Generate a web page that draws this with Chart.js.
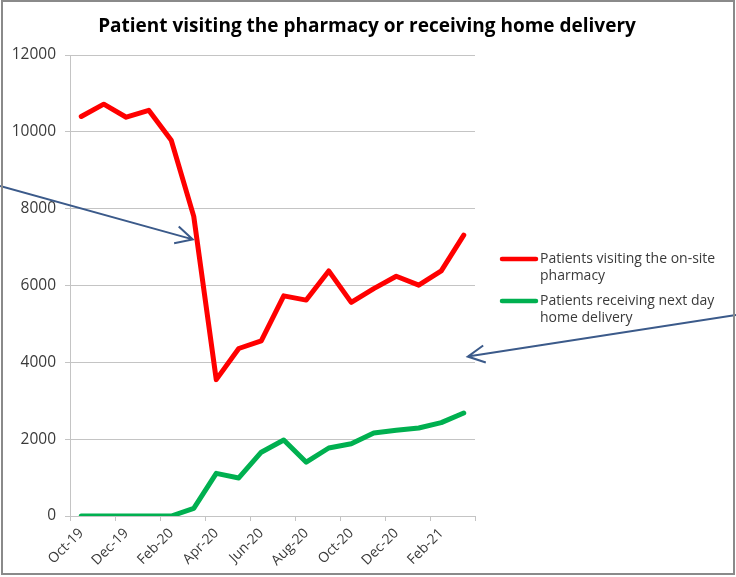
<!DOCTYPE html>
<html>
<head>
<meta charset="utf-8">
<script src="https://cdn.jsdelivr.net/npm/chart.js@4"></script>
<style>
  html, body { margin: 0; background: #fff; }
  #wrap { width: 736px; height: 577px; }
</style>
</head>
<body>
<div id="wrap"><canvas id="chart" width="736" height="577"></canvas></div>
<script>
const chartTitle = 'Patient visiting the pharmacy or receiving home delivery'

const months = [
  'Oct-19', 'Nov-19', 'Dec-19', 'Jan-20', 'Feb-20', 'Mar-20',
  'Apr-20', 'May-20', 'Jun-20', 'Jul-20', 'Aug-20', 'Sep-20',
  'Oct-20', 'Nov-20', 'Dec-20', 'Jan-21', 'Feb-21', 'Mar-21',
]

// patients visiting the on-site pharmacy
const onSiteVisits = [
  10400, 10720, 10380, 10560, 9780, 7800,
  3550, 4360, 4560, 5730, 5620, 6380,
  5560, 5920, 6240, 6010, 6380, 7310,
]

// patients receiving next day home delivery
const homeDeliveries = [
  0, 0, 0, 0, 0, 200,
  1110, 990, 1660, 1980, 1400, 1770,
  1880, 2160, 2230, 2290, 2430, 2680,
]

const legendLines = [
  ['Patients visiting the on-site', 'pharmacy'],
  ['Patients receiving next day', 'home delivery'],
]

const yMax = 12000
const yStep = 2000

const textColor = '#3a3a3a'
const gridColor = '#c4c4c4'
const arrowColor = '#3b5a8a'
const font = '"Open Sans", "Liberation Sans", sans-serif'

function drawArrow(ctx, x1, y1, x2, y2) {
  const angle = Math.atan2(y2 - y1, x2 - x1)
  const head = 19
  const spread = 0.47
  ctx.beginPath()
  ctx.moveTo(x1, y1)
  ctx.lineTo(x2, y2)
  ctx.moveTo(x2 - head * Math.cos(angle - spread), y2 - head * Math.sin(angle - spread))
  ctx.lineTo(x2, y2)
  ctx.lineTo(x2 - head * Math.cos(angle + spread), y2 - head * Math.sin(angle + spread))
  ctx.stroke()
}

const overlay = {
  id: 'overlay',
  afterDraw(chart) {
    const { ctx, scales: { x, y } } = chart
    ctx.save()

    // title
    ctx.fillStyle = '#000'
    ctx.font = `bold 19px ${font}`
    ctx.textAlign = 'center'
    ctx.textBaseline = 'middle'
    ctx.fillText(chartTitle, 367, 27)

    // legend, two-line labels
    ctx.font = `14px ${font}`
    ctx.textAlign = 'left'
    chart.data.datasets.forEach((ds, i) => {
      const top = 259 + i * 42
      ctx.strokeStyle = ds.borderColor
      ctx.lineWidth = 4.5
      ctx.lineCap = 'round'
      ctx.beginPath()
      ctx.moveTo(502, top)
      ctx.lineTo(536, top)
      ctx.stroke()
      ctx.fillStyle = textColor
      legendLines[i].forEach((line, j) => ctx.fillText(line, 540, top + j * 17))
    })

    // pointer arrows
    ctx.strokeStyle = arrowColor
    ctx.lineWidth = 2
    ctx.lineCap = 'butt'
    ctx.lineJoin = 'miter'
    drawArrow(ctx, 0, 186, x.getPixelForValue(5) - 1, y.getPixelForValue(7200))
    drawArrow(ctx, 736, 315, x.getPixelForValue(17) + 4, y.getPixelForValue(4150))

    // frame
    ctx.strokeStyle = '#8a8a8a'
    ctx.lineWidth = 2
    ctx.strokeRect(2, 1, 732, 573)
    ctx.restore()
  },
}

new Chart(document.getElementById('chart'), {
  type: 'line',
  data: {
    labels: months,
    datasets: [
      {
        label: legendLines[0].join(' '),
        data: onSiteVisits,
        borderColor: '#ff0000',
        backgroundColor: '#ff0000',
      },
      {
        label: legendLines[1].join(' '),
        data: homeDeliveries,
        borderColor: '#00b050',
        backgroundColor: '#00b050',
      },
    ],
  },
  options: {
    responsive: false,
    animation: false,
    devicePixelRatio: 1,
    layout: { padding: { left: 0, top: 55, right: 261, bottom: 0 } },
    elements: {
      line: { borderWidth: 5, tension: 0, borderCapStyle: 'round', borderJoinStyle: 'round' },
      point: { radius: 0, hoverRadius: 0 },
    },
    plugins: {
      legend: { display: false },
      title: { display: false },
      tooltip: { enabled: false },
    },
    scales: {
      x: {
        offset: true,
        afterFit: (scale) => { scale.height = 61 },
        grid: {
          offset: true,
          drawOnChartArea: false,
          drawTicks: true,
          tickLength: 5,
          tickColor: (c) => (c.index === undefined || c.index % 2 === 0 ? gridColor : 'rgba(0,0,0,0)'),
        },
        border: { display: true, color: gridColor, width: 1 },
        ticks: {
          autoSkip: false,
          minRotation: 45,
          maxRotation: 45,
          padding: 4,
          color: textColor,
          font: { family: font, size: 14 },
          callback: (v, i) => (i % 2 === 0 ? months[i] : ''),
        },
      },
      y: {
        min: 0,
        max: yMax,
        afterFit: (scale) => { scale.width = 70 },
        grid: { color: gridColor, tickLength: 5, lineWidth: 1 },
        border: { display: true, color: gridColor, width: 1 },
        ticks: {
          stepSize: yStep,
          padding: 9,
          color: textColor,
          font: { family: font, size: 15.5 },
          callback: (v) => String(v),
        },
      },
    },
  },
  plugins: [overlay],
})
</script>
</body>
</html>
